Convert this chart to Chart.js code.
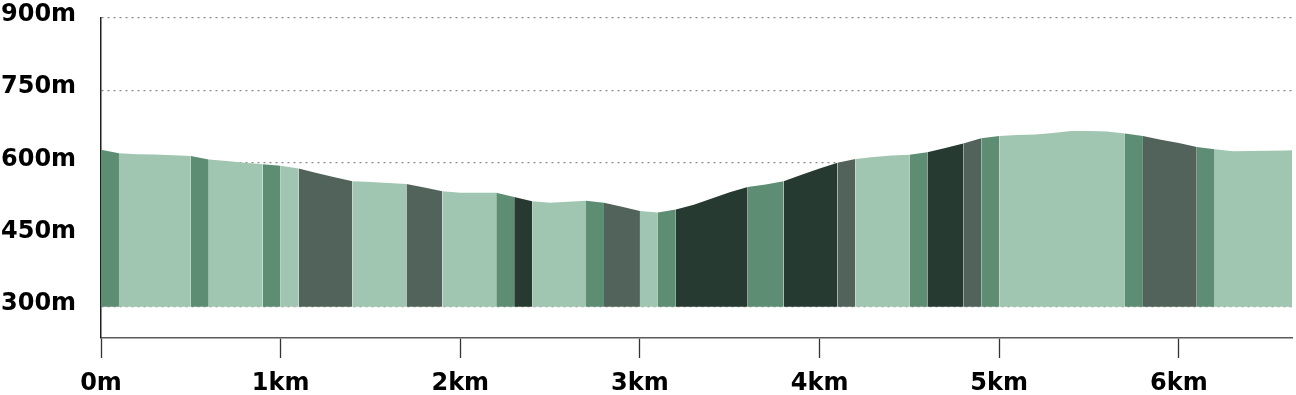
<!DOCTYPE html>
<html>
<head>
<meta charset="utf-8">
<script src="https://cdn.jsdelivr.net/npm/chart.js@4"></script>
<style>
  html, body { margin: 0; padding: 0; background: #fff; }
</style>
</head>
<body>
<canvas id="profile" width="1296" height="395"></canvas>
<script>
// distance along the route (km) and elevation (m)
var distanceKm = [0, 0.1, 0.2, 0.3, 0.4, 0.5, 0.6, 0.7, 0.8, 0.9,
  1.0, 1.1, 1.2, 1.3, 1.4, 1.5, 1.6, 1.7, 1.8, 1.9,
  2.0, 2.1, 2.2, 2.3, 2.4, 2.5, 2.6, 2.7, 2.8, 2.9,
  3.0, 3.1, 3.2, 3.3, 3.4, 3.5, 3.6, 3.7, 3.8, 3.9,
  4.0, 4.1, 4.2, 4.3, 4.4, 4.5, 4.6, 4.7, 4.8, 4.9,
  5.0, 5.1, 5.2, 5.3, 5.4, 5.5, 5.6, 5.7, 5.8, 5.9,
  6.0, 6.1, 6.2, 6.3, 6.4, 6.5, 6.6, 6.63];
var elevationM = [626, 619, 617, 616.5, 615, 613, 606, 603, 599, 596,
  593, 587, 578, 569, 561, 559, 557, 555, 548, 540,
  537, 537, 537, 528, 519, 516, 518, 520, 516, 508,
  499, 496, 502, 512, 525, 538, 549, 554, 561, 574,
  587, 599, 607, 611, 614, 616, 621, 630, 639, 650,
  655, 657, 658, 661, 665, 665, 664, 660, 655, 647,
  640, 632, 627, 623, 623.5, 624, 624.5, 625];
// gradient class of each 100m stretch (0 flat .. 3 steep)
var gradeClass = [1, 0, 0, 0, 0, 1, 0, 0, 0, 1,
  0, 2, 2, 2, 0, 0, 0, 2, 2, 0,
  0, 0, 1, 3, 0, 0, 0, 1, 2, 2,
  0, 1, 3, 3, 3, 3, 1, 1, 3, 3,
  3, 2, 0, 0, 0, 1, 3, 3, 2, 1,
  0, 0, 0, 0, 0, 0, 0, 1, 2, 2,
  2, 1, 0, 0, 0, 0, 0];
var yTicks = [300, 450, 600, 750, 900];
var xTicks = [0, 1, 2, 3, 4, 5, 6];

var gradeColors = ["#a0c5b0", "#5d8e74", "#51635a", "#263a32"];

var points = distanceKm.map(function (d, i) {
  return { x: d, y: elevationM[i] };
});

var labelFont = { family: "'DejaVu Sans', sans-serif", size: 24, weight: "bold" };

var ctx = document.getElementById("profile").getContext("2d");
var chart = new Chart(ctx, {
  type: "line",
  data: {
    datasets: [
      {
        data: points,
        borderWidth: 0,
        pointRadius: 0,
        tension: 0,
        fill: { value: 300 },
        backgroundColor: gradeColors[0],
        segment: {
          backgroundColor: function (c) {
            return gradeColors[gradeClass[c.p0DataIndex]];
          },
        },
      },
    ],
  },
  options: {
    responsive: false,
    animation: false,
    layout: { padding: { top: 18, right: 4, left: 1 } },
    plugins: {
      legend: { display: false },
      tooltip: { enabled: false },
    },
    scales: {
      x: {
        type: "linear",
        min: 0,
        max: 6.63,
        afterBuildTicks: function (scale) {
          scale.ticks = xTicks.map(function (v) { return { value: v }; });
        },
        afterFit: function (scale) { scale.height = 57; },
        grid: {
          drawOnChartArea: false,
          tickLength: 20,
          tickColor: "#333",
          tickWidth: 1.3,
        },
        border: { color: "#5a5a5a", width: 1.6 },
        ticks: {
          padding: 11,
          color: "#000",
          font: labelFont,
          maxRotation: 0,
          callback: function (v) { return v === 0 ? "0m" : v + "km"; },
        },
      },
      y: {
        min: 235,
        max: 900,
        afterBuildTicks: function (scale) {
          scale.ticks = yTicks.map(function (v) { return { value: v }; });
        },
        afterFit: function (scale) { scale.width = 100; },
        grid: {
          drawTicks: false,
          color: "#8a8a8a",
          lineWidth: 1.2,
        },
        border: { color: "#1e1e1e", width: 1.5, dash: [2, 4] },
        ticks: {
          crossAlign: "far",
          labelOffset: -3,
          padding: 0,
          color: "#000",
          font: labelFont,
          callback: function (v) { return v + "m"; },
        },
      },
    },
  },
});
</script>
</body>
</html>
